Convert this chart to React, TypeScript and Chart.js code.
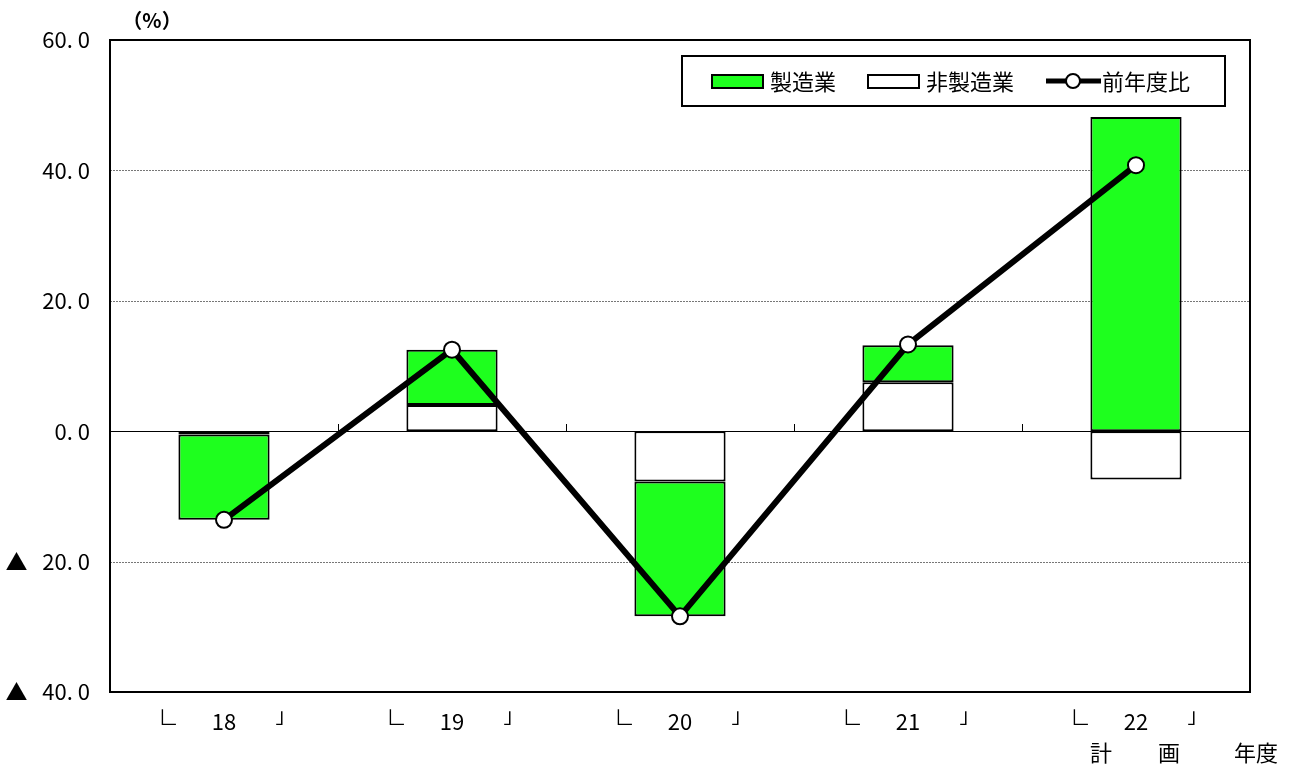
import React, { useEffect, useRef } from "react";
import { Chart, registerables } from "chart.js";
Chart.register(...registerables);

const categories = ["18", "19", "20", "21", "22"];
const nonManufacturing = [-0.5, 4.0, -7.7, 7.5, -7.4];
const manufacturing = [-13.1, 8.5, -20.7, 5.7, 48.2];
const yoyChange = [-13.6, 12.5, -28.4, 13.3, 40.8];
const yMin = -40;
const yMax = 60;
const yStep = 20;
const unitLabel = "（%）";
const planLabels = ["計", "画", "年度"];
const seriesNames = ["前年度比", "非製造業", "製造業"];

const FONT = '"Noto Sans CJK JP", "Noto Sans", sans-serif';
const GREEN = "#1EFF1E";

function fmtTick(v: number): string {
  const s = Math.abs(v).toFixed(1).replace(".", ". ");
  return v < 0 ? "▲   " + s : s;
}

const decorPlugin = {
  id: "decor",
  beforeDatasetsDraw(chart: any) {
    const { ctx, chartArea, scales } = chart;
    const y = scales.y;
    const x = scales.x;
    ctx.save();
    for (let v = yMin + yStep; v < yMax; v += yStep) {
      const py = Math.round(y.getPixelForValue(v)) + 0.5;
      ctx.beginPath();
      if (v === 0) {
        ctx.setLineDash([]);
        ctx.strokeStyle = "#000";
        ctx.lineWidth = 1;
      } else {
        ctx.setLineDash([2, 1]);
        ctx.strokeStyle = "#777";
        ctx.lineWidth = 1;
      }
      ctx.moveTo(chartArea.left, py);
      ctx.lineTo(chartArea.right, py);
      ctx.stroke();
    }
    ctx.setLineDash([]);
    const y0 = Math.round(y.getPixelForValue(0));
    ctx.strokeStyle = "#000";
    ctx.lineWidth = 1;
    for (let i = 0; i < categories.length - 1; i++) {
      const bx = Math.round((x.getPixelForValue(i) + x.getPixelForValue(i + 1)) / 2) + 0.5;
      ctx.beginPath();
      ctx.moveTo(bx, y0 - 7);
      ctx.lineTo(bx, y0);
      ctx.stroke();
    }
    ctx.restore();
  },
  afterDraw(chart: any) {
    const { ctx, chartArea, scales } = chart;
    const x = scales.x;
    ctx.save();
    ctx.strokeStyle = "#000";
    ctx.lineWidth = 2;
    ctx.strokeRect(chartArea.left, chartArea.top, chartArea.right - chartArea.left, chartArea.bottom - chartArea.top);

    ctx.fillStyle = "#000";
    ctx.font = "20px " + FONT;
    ctx.textAlign = "left";
    ctx.textBaseline = "alphabetic";
    const inkBottom = chartArea.bottom + 33;
    for (let i = 0; i < categories.length; i++) {
      const cx = x.getPixelForValue(i);
      [["∟", cx - 55], ["」", cx + 55]].forEach(([ch, c]: any) => {
        const m = ctx.measureText(ch);
        const tx = c - (m.actualBoundingBoxRight - m.actualBoundingBoxLeft) / 2;
        ctx.fillText(ch, tx, inkBottom - m.actualBoundingBoxDescent);
      });
    }

    ctx.font = "22px " + FONT;
    ctx.textAlign = "center";
    ctx.textBaseline = "middle";
    const last = x.getPixelForValue(categories.length - 1);
    const offs = [-35, 33, 120];
    planLabels.forEach((t, i) => ctx.fillText(t, last + offs[i], chartArea.bottom + 61));

    ctx.font = "bold 20px " + FONT;
    ctx.fillText(unitLabel, chartArea.left + 42, chartArea.top - 20);

    const ds = chart.data.datasets;
    const boxRight = chartArea.right - 25;
    const boxLeft = boxRight - 543;
    const boxTop = chartArea.top + 16;
    const boxH = 50;
    ctx.fillStyle = "#fff";
    ctx.fillRect(boxLeft, boxTop, boxRight - boxLeft, boxH);
    ctx.strokeStyle = "#000";
    ctx.lineWidth = 2;
    ctx.strokeRect(boxLeft, boxTop, boxRight - boxLeft, boxH);
    const cy = boxTop + boxH / 2;
    ctx.font = "22px " + FONT;
    ctx.textAlign = "left";
    ctx.textBaseline = "middle";
    let px = boxLeft + 30;
    [2, 1, 0].forEach((di) => {
      const d = ds[di];
      if (d.type === "line") {
        ctx.strokeStyle = "#000";
        ctx.lineWidth = 5;
        ctx.beginPath();
        ctx.moveTo(px, cy);
        ctx.lineTo(px + 55, cy);
        ctx.stroke();
        ctx.beginPath();
        ctx.arc(px + 27, cy, 7, 0, Math.PI * 2);
        ctx.fillStyle = "#fff";
        ctx.fill();
        ctx.lineWidth = 2;
        ctx.stroke();
        px += 56;
      } else {
        ctx.fillStyle = d.backgroundColor;
        ctx.fillRect(px, cy - 6, 51, 13);
        ctx.strokeStyle = "#000";
        ctx.lineWidth = 2;
        ctx.strokeRect(px, cy - 6, 51, 13);
        px += 58;
      }
      ctx.fillStyle = "#000";
      ctx.fillText(d.label, px, cy + 1);
      px += ctx.measureText(d.label).width + 32;
    });
    ctx.restore();
  },
};

export default function App() {
  const ref = useRef<HTMLCanvasElement | null>(null);
  useEffect(() => {
    if (!ref.current) return;
    const chart = new Chart(ref.current, {
      type: "bar",
      data: {
        labels: categories,
        datasets: [
          {
            type: "line",
            label: seriesNames[0],
            data: yoyChange,
            stack: "line",
            borderColor: "#000",
            borderWidth: 6,
            pointRadius: 8,
            pointBackgroundColor: "#fff",
            pointBorderColor: "#000",
            pointBorderWidth: 2,
            tension: 0,
          } as any,
          {
            type: "bar",
            label: seriesNames[1],
            data: nonManufacturing,
            stack: "bars",
            backgroundColor: "#FFFFFF",
            borderColor: "#000",
            borderWidth: 2,
            borderSkipped: false,
            barPercentage: 0.4,
            categoryPercentage: 1,
          } as any,
          {
            type: "bar",
            label: seriesNames[2],
            data: manufacturing,
            stack: "bars",
            backgroundColor: GREEN,
            borderColor: "#000",
            borderWidth: 2,
            borderSkipped: false,
            barPercentage: 0.4,
            categoryPercentage: 1,
          } as any,
        ],
      },
      plugins: [decorPlugin],
      options: {
        animation: false,
        responsive: false,
        devicePixelRatio: 1,
        layout: { padding: { left: 0, top: 40, right: 39, bottom: 0 } },
        plugins: { legend: { display: false }, tooltip: { enabled: false } },
        scales: {
          x: {
            stacked: true,
            grid: { display: false, drawTicks: false },
            border: { display: false },
            ticks: { color: "#000", font: { family: FONT, size: 22 }, padding: 16 },
            afterFit: (s: any) => {
              s.height = 77;
            },
          },
          y: {
            stacked: true,
            min: yMin,
            max: yMax,
            grid: { display: false, drawTicks: false },
            border: { display: false },
            ticks: {
              stepSize: yStep,
              color: "#000",
              font: { family: FONT, size: 22 },
              padding: 20,
              callback: (v: any) => fmtTick(Number(v)),
            },
            afterFit: (s: any) => {
              s.width = 110;
            },
          },
        },
      },
    });
    return () => chart.destroy();
  }, []);
  return (
    <div style={{ position: "absolute", left: 0, top: 0, width: 1289, height: 769, background: "#fff" }}>
      <canvas ref={ref} width={1289} height={769} style={{ width: 1289, height: 769 }} />
    </div>
  );
}
